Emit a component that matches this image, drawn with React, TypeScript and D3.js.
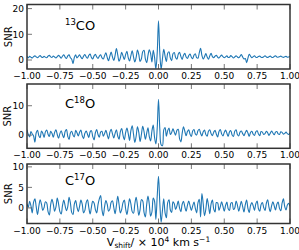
import * as d3 from "d3";

// velocity shift grid, -1.00 .. 1.00 in steps of 0.01 (x 10^4 km/s)
const xTicks = [-1, -0.75, -0.5, -0.25, 0, 0.25, 0.5, 0.75, 1];

const snr13CO = [
  1.5, 0.9, 1.4, 1.1, 0.8, 1.3, 1.6, 1.2, 0.9, 1.3, 1.7, 1.2, 1.0, 1.4, 1.1, 0.9, 1.5, 1.8, 1.2, 1.0,
  1.5, 1.2, 0.8, 1.3, 1.8, 1.3, 0.7, 1.5, 2.0, 1.1, 0.6, 1.6, 2.0, 0.9, 0.3, -1.4, 1.0, 2.0, 0.8, 1.4,
  2.0, 1.1, 0.5, 1.5, 2.1, 1.2, 0.7, 1.8, 2.3, 1.0, 0.4, 1.6, 2.2, 1.2, 0.6, 1.5, 2.0, 0.9, 0.4, 1.7,
  2.8, 1.0, -0.3, 1.5, 3.1, 1.2, -0.2, 1.8, 4.5, 2.0, -0.5, 0.8, 3.0, 1.6, 0.2, 2.1, 3.4, 0.9, -0.4, 1.7,
  3.6, 1.2, -0.8, 1.0, 3.9, 2.2, -0.6, 0.5, 3.2, 3.8, 0.4, -1.0, 1.8, 4.0, 2.5, -0.8, 3.8, 1.0, -3.4, 2.5,
  15.3,
  2.8, -3.5, 0.5, 4.2, 1.5, -0.6, 2.6, 3.2, 0.8, -0.3, 2.4, 2.9, 1.0, 0.3, 2.2, 3.0, 1.4, 0.2, 1.8, 2.6,
  1.2, 0.6, 1.7, 2.3, 1.1, 0.5, 1.9, 2.4, 0.9, 0.7, 2.8, 4.6, 1.8, 0.4, 1.3, 2.5, 1.2, 0.3, 1.6, 2.6,
  1.3, 0.9, 1.5, 1.8, 1.1, 0.8, 1.4, 1.9, 1.3, 0.9, 1.2, 1.6, 1.0, 1.1, 1.7, 1.3, 0.8, 1.2, 1.6, 1.2,
  0.9, 1.4, 2.1, 1.2, 0.4, 0.6, -1.0, 0.7, 2.2, 1.5, 0.9, 1.3, 1.6, 1.1, 1.0, 1.4, 1.5, 1.1, 1.0, 1.3,
  1.6, 1.2, 1.0, 1.3, 1.5, 1.1, 1.0, 1.4, 1.6, 1.2, 1.1, 1.3, 1.5, 1.2, 1.0, 1.3, 1.4, 1.1, 1.2, 1.4,
];

const snrC18O = [
  1.8, 0.2, -0.6, 1.2, 0.4, -0.3, -2.4, 0.8, 1.6, -0.2, -0.9, 1.4, 0.6, -0.8, 1.1, 1.7, 0.3, -0.5, 1.3, 0.6,
  -0.7, 0.9, 1.8, 0.2, -1.1, 0.5, 1.5, 0.1, -0.9, 1.2, 1.9, -0.4, -1.5, 0.7, 1.3, 0.0, -0.6, 1.6, 0.8, -0.3,
  1.0, 1.7, -0.2, -1.2, 0.6, 1.4, 0.3, -0.8, 1.1, 1.5, -0.5, -1.6, 0.8, 1.9, 0.2, -0.7, 1.0, 1.3, -0.4, 0.5,
  1.6, 0.1, -1.3, 0.9, 2.0, 0.4, -1.0, 0.6, 1.8, -0.3, -1.4, 1.2, 2.2, 0.0, -1.6, 0.8, 2.4, 0.5, -1.8, 1.5,
  3.2, 0.3, -2.5, -0.4, 2.8, 1.0, -2.2, 0.2, 3.0, 1.2, -1.4, 0.6, 2.5, -0.5, -2.0, 1.4, 3.4, -0.8, -3.0, 2.2,
  12.2,
  2.0, -3.3, -3.6, 1.8, 2.6, -0.4, 1.5, 2.4, 0.2, 0.9, 2.1, 1.0, 0.0, 1.6, 2.0, -1.2, -2.3, 0.6, 2.8, 1.3,
  -0.2, 1.2, 1.8, 0.3, -0.5, 1.4, 1.9, 0.4, 0.0, 1.5, 2.0, 0.6, -0.3, 1.1, 1.7, 0.2, -0.4, 1.3, 1.8, 0.5,
  -0.2, 1.0, 1.6, 0.3, -0.6, 1.2, 1.9, 0.4, -0.3, 0.9, 1.7, 0.6, -0.4, 1.1, 1.5, 0.0, -0.5, 1.3, 1.8, 0.2,
  -0.3, 1.0, 1.4, 0.5, -0.2, 0.8, 1.6, 0.7, -0.4, 0.9, 1.3, 0.3, -0.1, 1.1, 1.5, 0.4, -0.2, 1.2, 1.0, 0.2,
  0.5, 1.3, 0.8, -0.1, 0.6, 1.4, 0.7, 0.1, 1.0, 1.2, 0.4, 0.2, 1.1, 0.9, 0.3, 0.6, 1.0, 0.5, 0.2, 0.8,
];

const snrC17O = [
  1.0, 0.2, 1.6, 0.5, -1.2, 1.4, 2.2, 0.3, -1.6, 0.4, 2.0, 0.9, -0.6, 0.1, 1.5, 1.2, -0.9, -1.7, 0.8, 2.1,
  0.9, -0.8, 0.2, 2.4, 1.0, -0.9, -1.5, 0.6, 1.9, 0.5, -0.7, 0.3, 2.6, 1.2, -1.1, -1.6, 0.9, 1.8, 0.2, -0.9,
  0.4, 1.9, 0.9, -1.2, -0.6, 1.3, 2.0, 0.1, -1.5, 0.2, 1.6, 1.2, -0.4, -1.2, 0.8, 2.2, 3.0, -0.4, -1.9, 0.3,
  1.8, 0.9, -0.8, -0.3, 1.4, 1.7, 0.1, -1.4, 0.6, 2.8, 0.9, -1.2, -0.4, 1.3, 1.9, -0.2, -1.6, 0.3, 2.2, 1.0,
  -0.9, -1.3, 1.0, 2.6, 0.6, -1.8, -0.4, 2.0, 1.7, -1.1, -2.2, 0.8, 2.9, 0.9, -2.0, -1.0, 2.4, 1.6, -2.8, 2.7,
  7.7,
  1.2, -3.5, -0.6, 2.2, -1.2, -2.4, 1.3, 2.0, -0.5, -1.1, 1.5, 1.0, -0.4, 0.5, 1.7, 0.0, -0.9, 0.9, 1.6, 0.3,
  -0.8, 0.6, 1.7, 0.5, -0.6, 0.5, 1.4, -0.1, -1.2, 1.2, 2.1, -2.2, 3.5, 1.0, -1.9, -0.3, 2.3, 0.6, -1.4, 1.0,
  1.9, -0.3, -1.0, 1.3, 1.2, -0.6, 0.3, 1.5, 0.4, -0.8, 0.6, 1.4, -0.2, -0.6, 1.1, 1.3, -0.4, 0.0, 1.7, 0.7,
  -0.8, 0.4, 1.6, 0.3, -1.0, 0.8, 1.9, -0.1, -1.1, 0.6, 1.3, 0.5, -0.6, 1.0, 1.7, -0.2, -0.8, 0.8, 1.3, 0.1,
  -0.6, 1.1, 2.0, 0.2, -0.9, 0.5, 1.5, 0.5, -0.5, 0.9, 1.4, -0.1, -0.7, 1.2, 2.2, 0.3, -0.5, 0.7, 1.1, 0.4,
];

type Panel = {
  key: string;
  iso: string;
  prefix: string;
  suffix: string;
  values: number[];
  top: number;
  bottom: number;
  yDomain: [number, number];
  yTicks: number[];
  labelY: number;
};

const panels: Panel[] = [
  { key: "p13", iso: "13", prefix: "", suffix: "CO", values: snr13CO, top: 4.5, bottom: 69, yDomain: [-3.5, 21.6], yTicks: [0, 10, 20], labelY: 30 },
  { key: "p18", iso: "18", prefix: "C", suffix: "O", values: snrC18O, top: 84, bottom: 148.3, yDomain: [-4.5, 17.4], yTicks: [0, 10], labelY: 108 },
  { key: "p17", iso: "17", prefix: "C", suffix: "O", values: snrC17O, top: 164, bottom: 223.5, yDomain: [-3.8, 10.7], yTicks: [0, 5, 10], labelY: 185 },
];

const left = 27;
const right = 290;
const font = "DejaVu Sans, sans-serif";
const lineColor = "#1f77b4";
const frameColor = "#333";
const tickColor = "#555";
const tickLen = 5;

const x = d3.scaleLinear().domain([-1, 1]).range([left, right]);
const fmt = (v: number) => d3.format(".2f")(v).replace("-", "\u2212");

const PanelView = ({ p }: { p: Panel }) => {
  const y = d3.scaleLinear().domain(p.yDomain).range([p.bottom, p.top]);
  const data = p.values.map((v, i) => [-1 + i * 0.01, v] as [number, number]);
  const line = d3
    .line<[number, number]>()
    .x((d) => x(d[0]))
    .y((d) => y(d[1]))
    .curve(d3.curveCatmullRom.alpha(0.5));
  const clipId = `clip-${p.key}`;
  const midY = (p.top + p.bottom) / 2;
  return (
    <g>
      <defs>
        <clipPath id={clipId}>
          <rect x={left} y={p.top} width={right - left} height={p.bottom - p.top} />
        </clipPath>
      </defs>
      <path d={line(data) || ""} fill="none" stroke={lineColor} strokeWidth={1.1} clipPath={`url(#${clipId})`} />
      {/* x ticks top and bottom, pointing inward */}
      {xTicks.map((t) => (
        <g key={`xt${t}`}>
          <line x1={x(t)} x2={x(t)} y1={p.top} y2={p.top + tickLen} stroke={tickColor} strokeWidth={0.8} />
          <line x1={x(t)} x2={x(t)} y1={p.bottom} y2={p.bottom - tickLen} stroke={tickColor} strokeWidth={0.8} />
          <text x={x(t)} y={p.bottom + 10} textAnchor="middle" fontSize={9} fontFamily={font} fill="#000">{fmt(t)}</text>
        </g>
      ))}
      <rect x={left} y={p.top} width={right - left} height={p.bottom - p.top} fill="none" stroke={frameColor} strokeWidth={1.5} />
      {/* y ticks, pointing inward */}
      {p.yTicks.map((t) => (
        <g key={`yt${t}`}>
          <line x1={left} x2={left + tickLen} y1={y(t)} y2={y(t)} stroke={tickColor} strokeWidth={0.8} />
          <text x={left - 3} y={y(t) + 3.2} textAnchor="end" fontSize={9} fontFamily={font} fill="#000">
            {String(t)}
          </text>
        </g>
      ))}
      <text x={8} y={midY} transform={`rotate(-90, 8, ${midY})`} dy="0.35em" textAnchor="middle" fontSize={10} fontFamily={font}>SNR</text>
      <text x={left + 38} y={p.labelY} fontSize={13} fontFamily={font}>
        {p.prefix ? <tspan>{p.prefix}</tspan> : null}
        <tspan fontSize={8.5} dy={-5}>{p.iso}</tspan>
        <tspan dy={5}>{p.suffix}</tspan>
      </text>
    </g>
  );
};

export default function App() {
  return (
    <svg width={299} height={250} style={{ position: "absolute", left: 0, top: 0, background: "#fff" }}>
      {panels.map((p) => (
        <PanelView key={p.key} p={p} />
      ))}
      <text x={158.5} y={246} textAnchor="middle" fontSize={11} fontFamily={font}>
        <tspan>V</tspan>
        <tspan fontSize={7.5} dy={2}>shift</tspan>
        <tspan dy={-2}>/ × 10</tspan>
        <tspan fontSize={7.5} dy={-4}>4</tspan>
        <tspan dy={4}> km s</tspan>
        <tspan fontSize={7.5} dy={-4}>−1</tspan>
      </text>
    </svg>
  );
}
